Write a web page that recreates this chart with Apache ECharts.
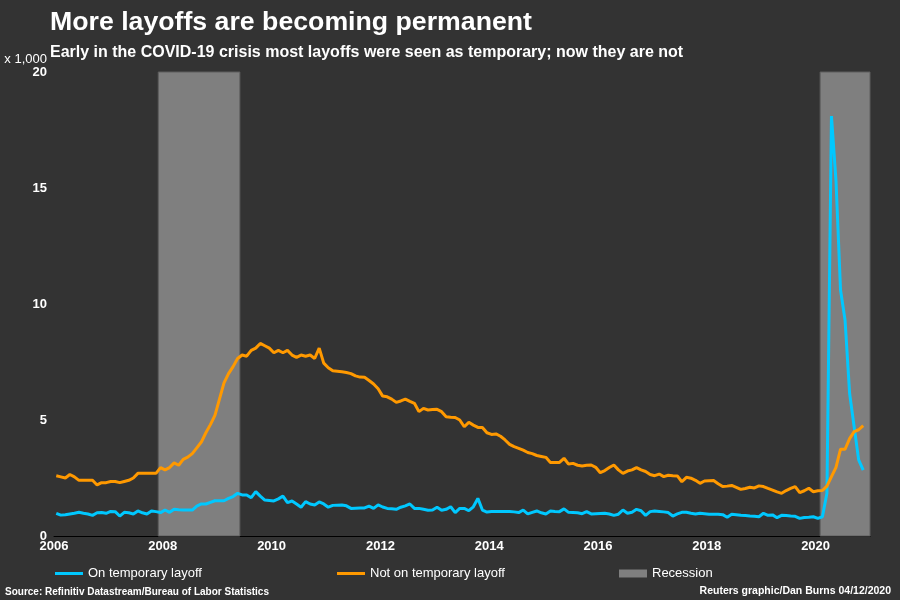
<!DOCTYPE html>
<html>
<head>
<meta charset="utf-8">
<script src="https://cdn.jsdelivr.net/npm/echarts@6/dist/echarts.min.js"></script>
<style>
  html, body { margin: 0; padding: 0; background: #333333; }
  #chart { width: 900px; height: 600px; }
</style>
</head>
<body>
<div id="chart"></div>
<script>
// ---- data (thousands of persons, x 1,000), monthly from Jan 2006 to Nov 2020 ----
const startYear = 2006;
const onTemporaryLayoff = [
  0.98, 0.90, 0.92, 0.95, 0.98, 1.02, 0.98, 0.95, 0.89, 1.00, 1.01, 0.98,
  1.06, 1.05, 0.86, 1.02, 1.00, 0.95, 1.08, 1.00, 0.95, 1.08, 1.05, 1.01,
  1.12, 1.02, 1.15, 1.13, 1.12, 1.12, 1.12, 1.29, 1.38, 1.38, 1.45, 1.52,
  1.52, 1.52, 1.62, 1.70, 1.84, 1.77, 1.77, 1.65, 1.91, 1.72, 1.55, 1.53,
  1.51, 1.60, 1.72, 1.44, 1.51, 1.38, 1.24, 1.48, 1.38, 1.34, 1.47, 1.38,
  1.24, 1.32, 1.33, 1.34, 1.30, 1.19, 1.20, 1.21, 1.21, 1.29, 1.19, 1.34,
  1.25, 1.19, 1.17, 1.15, 1.24, 1.30, 1.38, 1.19, 1.19, 1.15, 1.11, 1.12,
  1.24, 1.11, 1.15, 1.26, 1.01, 1.19, 1.19, 1.09, 1.26, 1.62, 1.12, 1.03,
  1.06, 1.06, 1.06, 1.06, 1.06, 1.04, 1.01, 1.12, 0.95, 1.02, 1.08, 1.00,
  0.95, 1.08, 1.06, 1.05, 1.17, 1.02, 1.01, 1.00, 0.96, 1.05, 0.95, 0.96,
  0.97, 0.98, 0.95, 0.89, 0.94, 1.12, 0.98, 1.02, 1.15, 1.09, 0.89, 1.05,
  1.08, 1.06, 1.04, 1.01, 0.86, 0.95, 1.02, 1.02, 0.98, 0.95, 0.98, 0.96,
  0.94, 0.94, 0.94, 0.92, 0.81, 0.94, 0.92, 0.89, 0.88, 0.86, 0.85, 0.83,
  0.98, 0.89, 0.91, 0.79, 0.89, 0.88, 0.86, 0.85, 0.76, 0.80, 0.81, 0.83,
  0.76, 0.83, 1.84, 18.1, 15.3, 10.6, 9.30, 6.15, 4.71, 3.28, 2.84
];
const notOnTemporaryLayoff = [
  2.60, 2.55, 2.50, 2.65, 2.55, 2.40, 2.40, 2.40, 2.40, 2.20, 2.30, 2.30,
  2.35, 2.35, 2.30, 2.35, 2.40, 2.50, 2.70, 2.70, 2.70, 2.70, 2.70, 2.95,
  2.85, 2.95, 3.15, 3.05, 3.30, 3.40, 3.55, 3.80, 4.05, 4.45, 4.80, 5.20,
  5.90, 6.60, 7.00, 7.30, 7.65, 7.80, 7.75, 8.00, 8.10, 8.30, 8.20, 8.10,
  7.90, 8.00, 7.90, 8.00, 7.80, 7.70, 7.80, 7.75, 7.80, 7.65, 8.10, 7.45,
  7.25, 7.12, 7.10, 7.08, 7.05, 7.00, 6.90, 6.85, 6.84, 6.70, 6.55, 6.35,
  6.03, 6.00, 5.90, 5.76, 5.82, 5.90, 5.80, 5.72, 5.36, 5.50, 5.43, 5.45,
  5.46, 5.36, 5.14, 5.12, 5.11, 5.00, 4.71, 4.90, 4.78, 4.68, 4.68, 4.45,
  4.38, 4.40, 4.30, 4.14, 3.95, 3.85, 3.78, 3.70, 3.60, 3.55, 3.47, 3.43,
  3.39, 3.17, 3.17, 3.17, 3.35, 3.10, 3.13, 3.05, 3.02, 3.05, 3.06, 2.96,
  2.73, 2.82, 2.95, 3.06, 2.85, 2.70, 2.80, 2.85, 2.95, 2.85, 2.78, 2.65,
  2.60, 2.67, 2.56, 2.62, 2.60, 2.59, 2.34, 2.53, 2.49, 2.40, 2.27, 2.37,
  2.38, 2.39, 2.25, 2.13, 2.15, 2.18, 2.10, 2.01, 2.05, 2.10, 2.07, 2.16,
  2.13, 2.05, 1.98, 1.90, 1.84, 1.96, 2.05, 2.13, 1.87, 1.95, 2.06, 1.91,
  1.95, 1.96, 2.15, 2.56, 2.96, 3.74, 3.74, 4.20, 4.50, 4.58, 4.76
];
// recession periods as decimal years [start, end]
const recessions = [[2007 + 11/12, 2009 + 5/12], [2020 + 1/12, 2021]];
const xRange = [2006, 2021];
const yRange = [0, 20];

// month midpoints as decimal years
const monthX = (i) => startYear + (i + 0.5) / 12;
const tempData = onTemporaryLayoff.map((v, i) => [monthX(i), v]);
const notTempData = notOnTemporaryLayoff.map((v, i) => [monthX(i), v]);

const FONT = "'Liberation Sans', Arial, Helvetica, sans-serif";
const chart = echarts.init(document.getElementById('chart'), null, { renderer: 'canvas' });

const legendBase = {
  top: 567,
  padding: 0,
  orient: 'horizontal',
  itemWidth: 28,
  itemGap: 5,
  textStyle: { color: '#ffffff', fontSize: 13, fontFamily: FONT, padding: [0, 0, 0, 0] },
  selectedMode: false
};

chart.setOption({
  backgroundColor: '#333333',
  animation: false,
  textStyle: { fontFamily: FONT },
  title: [
    {
      text: 'More layoffs are becoming permanent',
      left: 50, top: 9, padding: 0,
      textStyle: { color: '#ffffff', fontSize: 26.7, fontWeight: 'bold', fontFamily: FONT }
    },
    {
      text: 'Early in the COVID-19 crisis most layoffs were seen as temporary; now they are not',
      left: 50, top: 45, padding: 0,
      textStyle: { color: '#ffffff', fontSize: 16, fontWeight: 'bold', fontFamily: FONT }
    },
    {
      text: 'Source: Refinitiv Datastream/Bureau of Labor Statistics',
      left: 5, top: 587, padding: 0,
      textStyle: { color: '#ffffff', fontSize: 10, fontWeight: 'bold', fontFamily: FONT }
    },
    {
      text: 'Reuters graphic/Dan Burns 04/12/2020',
      right: 9, top: 586, padding: 0,
      textStyle: { color: '#ffffff', fontSize: 10.5, fontWeight: 'bold', fontFamily: FONT }
    }
  ],
  legend: [
    Object.assign({}, legendBase, { left: 55, itemHeight: 3, icon: 'rect', data: ['On temporary layoff'] }),
    Object.assign({}, legendBase, { left: 337, itemHeight: 3, icon: 'rect', data: ['Not on temporary layoff'] }),
    Object.assign({}, legendBase, { left: 619, itemHeight: 8, icon: 'rect', data: ['Recession'] })
  ],
  grid: { left: 54, right: 30, top: 72, bottom: 64, containLabel: false },
  xAxis: {
    type: 'value',
    min: xRange[0], max: xRange[1], interval: 2,
    axisLine: { show: true, lineStyle: { color: '#000000', width: 1 } },
    axisTick: { show: false },
    splitLine: { show: false },
    axisLabel: {
      color: '#ffffff', fontSize: 13, fontWeight: 'bold', fontFamily: FONT,
      margin: 4, showMaxLabel: false,
      formatter: (v) => String(Math.round(v))
    }
  },
  yAxis: {
    type: 'value',
    min: yRange[0], max: yRange[1], interval: 5,
    name: 'x 1,000',
    nameLocation: 'end',
    nameGap: 6,
    nameTextStyle: { color: '#ffffff', fontSize: 13, fontFamily: FONT, align: 'right', padding: [0, 7, 0, 0] },
    axisLine: { show: false },
    axisTick: { show: false },
    splitLine: { show: false },
    axisLabel: { color: '#ffffff', fontSize: 13, fontWeight: 'bold', fontFamily: FONT, margin: 7 }
  },
  series: [
    {
      name: 'Recession',
      type: 'line',
      data: [],
      color: '#7f7f7f',
      itemStyle: { color: '#7f7f7f' },
      lineStyle: { color: '#7f7f7f' },
      silent: true,
      markArea: {
        silent: true,
        itemStyle: { color: '#7f7f7f', borderColor: '#5e5e5e', borderWidth: 1 },
        data: recessions.map(r => [{ xAxis: r[0] }, { xAxis: r[1] }])
      }
    },
    {
      name: 'On temporary layoff',
      type: 'line',
      data: tempData,
      showSymbol: false,
      color: '#00c8ff',
      itemStyle: { color: '#00c8ff' },
      lineStyle: { color: '#00c8ff', width: 3 },
      z: 3
    },
    {
      name: 'Not on temporary layoff',
      type: 'line',
      data: notTempData,
      showSymbol: false,
      color: '#ff9900',
      itemStyle: { color: '#ff9900' },
      lineStyle: { color: '#ff9900', width: 3 },
      z: 3
    }
  ]
});
</script>
</body>
</html>
